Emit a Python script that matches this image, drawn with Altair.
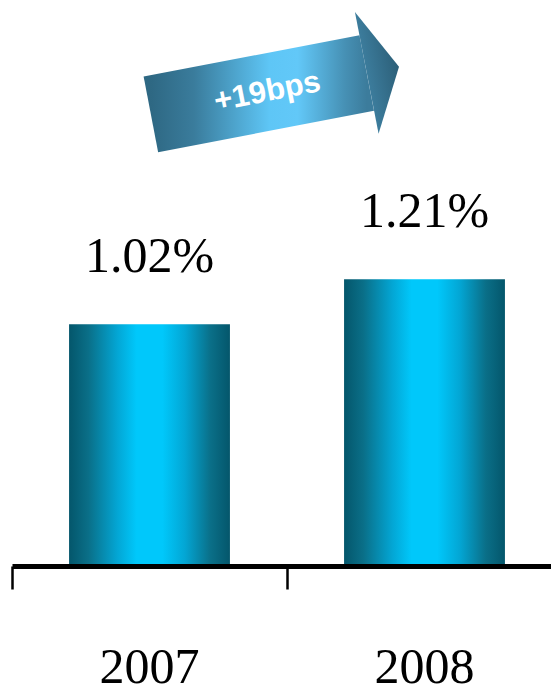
import altair as alt
import pandas as pd

# ---- data ----
years = ["2007", "2008"]
rates = [1.02, 1.21]
rate_labels = ["1.02%", "1.21%"]

change_bps = round((rates[1] - rates[0]) * 100)
arrow_label = f"+{change_bps}bps"

# arrow annotation anchors (x in band units: 0 = start of 2007 band, 2 = end of 2008 band; y in %)
arrow_x = [0.505, 1.29]
arrow_y = [1.905, 2.08]
text_frac = 0.54

# ---- layout ----
W = 539
H = 558
X_RANGE = [0, 550]
Y_DOMAIN = [0, 2.354]

bars_df = pd.DataFrame({"year": years, "rate": rates, "label": rate_labels})
arrow_df = pd.DataFrame({"ax": arrow_x, "ay": arrow_y})
head_df = arrow_df.iloc[[1]]
text_df = pd.DataFrame({
    "ax": [arrow_x[0] + text_frac * (arrow_x[1] - arrow_x[0])],
    "ay": [arrow_y[0] + text_frac * (arrow_y[1] - arrow_y[0])],
    "t": [arrow_label],
})

bar_grad = alt.LinearGradient(
    gradient="linear", x1=0, x2=1, y1=0, y2=0,
    stops=[
        alt.GradientStop(offset=0.0, color="#04566b"),
        alt.GradientStop(offset=0.12, color="#0a6f88"),
        alt.GradientStop(offset=0.30, color="#03a6d4"),
        alt.GradientStop(offset=0.42, color="#00c8fb"),
        alt.GradientStop(offset=0.58, color="#00c8fb"),
        alt.GradientStop(offset=0.72, color="#03a6d4"),
        alt.GradientStop(offset=0.88, color="#0a6f88"),
        alt.GradientStop(offset=1.0, color="#04566b"),
    ],
)

arrow_grad = alt.LinearGradient(
    gradient="linear", x1=0, x2=1, y1=0, y2=0,
    stops=[
        alt.GradientStop(offset=0.0, color="#2e6883"),
        alt.GradientStop(offset=0.2, color="#3a7c9c"),
        alt.GradientStop(offset=0.55, color="#5ec6f6"),
        alt.GradientStop(offset=0.68, color="#62c8f8"),
        alt.GradientStop(offset=0.9, color="#4690b4"),
        alt.GradientStop(offset=1.0, color="#3c7c9c"),
    ],
)

head_grad = alt.LinearGradient(
    gradient="linear", x1=0, x2=1, y1=0, y2=0,
    stops=[
        alt.GradientStop(offset=0.0, color="#3c7c9c"),
        alt.GradientStop(offset=1.0, color="#2c5f78"),
    ],
)

x_band = alt.X(
    "year:N",
    sort=years,
    scale=alt.Scale(range=X_RANGE, paddingInner=0, paddingOuter=0),
    axis=alt.Axis(
        title=None, bandPosition=0, labelAngle=0,
        domainColor="black", domainWidth=5, domainCap="butt",
        tickColor="black", tickWidth=2.5, tickSize=23,
        labelFont="Liberation Serif", labelFontSize=50, labelColor="black",
        labelBaseline="alphabetic", labelPadding=93, zindex=1,
    ),
)
x_band_noaxis = alt.X(
    "year:N", sort=years,
    scale=alt.Scale(range=X_RANGE, paddingInner=0, paddingOuter=0),
    axis=None,
)
y_val = alt.Y("rate:Q", scale=alt.Scale(domain=Y_DOMAIN, nice=False, zero=True), axis=None)

bars = alt.Chart(bars_df).mark_bar(
    width=alt.RelativeBandSize(0.585), color=bar_grad
).encode(x=x_band, y=y_val)

labels = alt.Chart(bars_df).mark_text(
    font="Liberation Serif", fontSize=50, baseline="alphabetic", dy=-52, color="black"
).encode(x=x_band_noaxis, y=y_val, text="label:N")

xq = alt.X("ax:Q", scale=alt.Scale(domain=[0, 2], range=X_RANGE, nice=False, zero=False), axis=None)
yq = alt.Y("ay:Q", scale=alt.Scale(domain=Y_DOMAIN, nice=False, zero=True), axis=None)

shaft = alt.Chart(arrow_df).mark_line(
    strokeWidth=77, strokeCap="butt", stroke=arrow_grad
).encode(x=xq, y=yq)

head = alt.Chart(head_df).mark_point(
    shape="M0,-1L0.53,0L0,1Z", size=15376, filled=True, fill=head_grad,
    opacity=1, strokeWidth=0, angle=349,
).encode(x=xq, y=yq)

arrow_text = alt.Chart(text_df).mark_text(
    font="Liberation Sans", fontWeight="bold", fontSize=31, color="white",
    angle=349, align="center", baseline="middle",
).encode(x=xq, y=yq, text="t:N")

chart = alt.layer(bars, labels, shaft, head, arrow_text).resolve_scale(
    x="independent"
).properties(
    width=W, height=H,
    autosize=alt.AutoSizeParams(type="none"),
    padding={"left": 4, "top": 0, "right": 0, "bottom": 121},
    background="white",
).configure_view(stroke=None)

chart.save("out.html", embed_options={"renderer": "svg", "actions": False})
